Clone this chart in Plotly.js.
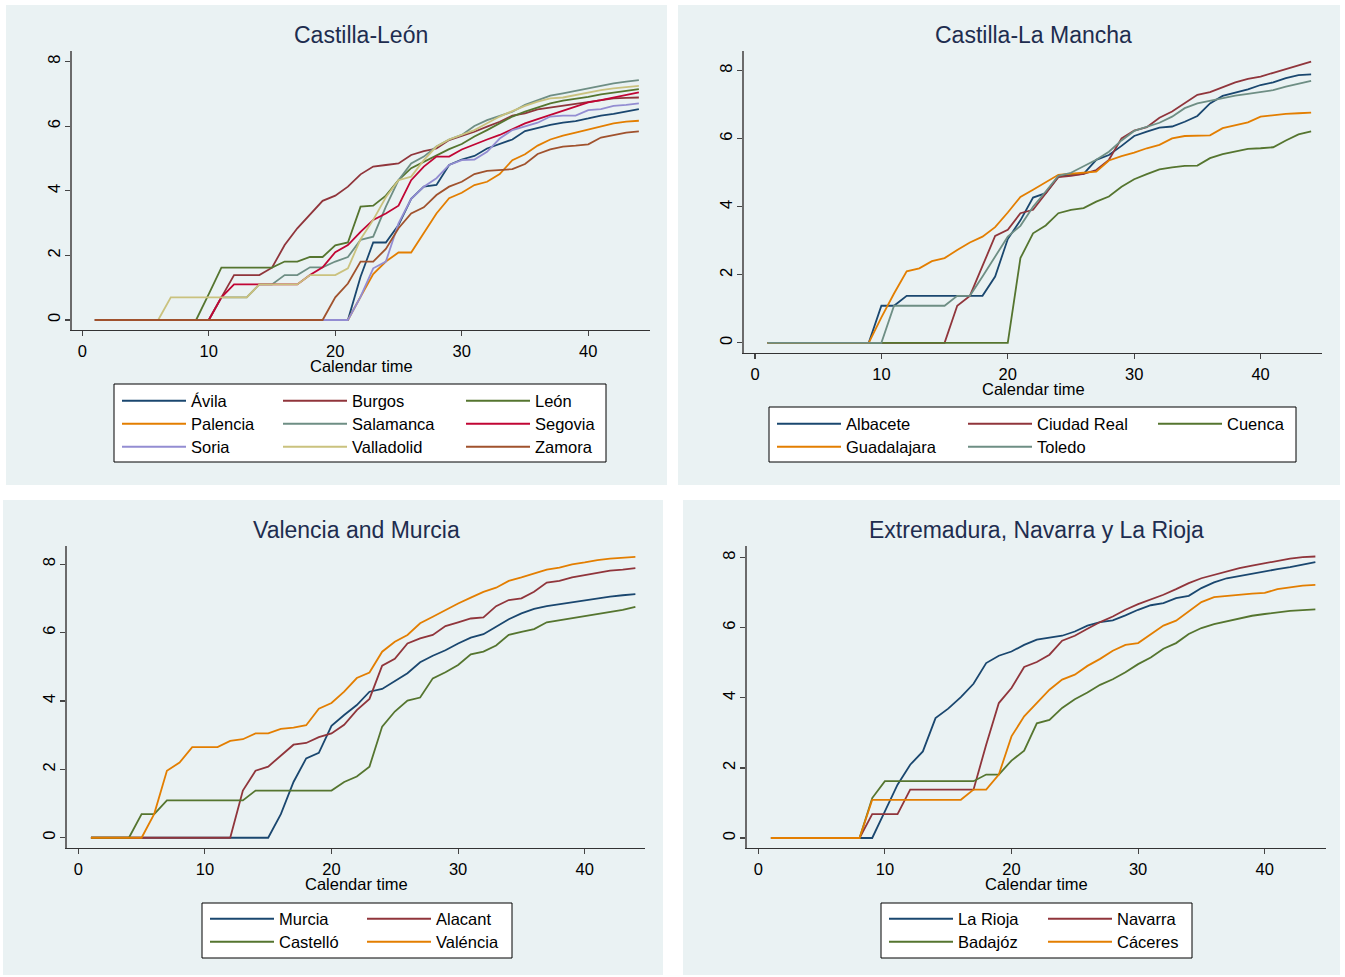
<!DOCTYPE html>
<html><head><meta charset="utf-8">
<script src="https://cdn.plot.ly/plotly-3.0.1.min.js"></script>
<style>html,body{margin:0;padding:0;background:#fff}#chart{width:1345px;height:977px}</style>
</head><body><div id="chart"></div>
<script>
const days = [1,2,3,4,5,6,7,8,9,10,11,12,13,14,15,16,17,18,19,20,21,22,23,24,25,26,27,28,29,30,31,32,33,34,35,36,37,38,39,40,41,42,43,44];
const xTicks = [0,10,20,30,40];
const yTicks = [0,2,4,6,8];

// Castilla-León
const avila      = [0,0,0,0,0,0,0,0,0,0,0,0,0,0,0,0,0,0,0,0,0,1.34,2.40,2.40,2.94,3.75,4.13,4.18,4.80,4.97,5.08,5.31,5.45,5.59,5.85,5.95,6.04,6.11,6.16,6.24,6.33,6.38,6.45,6.53];
const burgos     = [0,0,0,0,0,0,0,0,0,0,0.70,1.39,1.39,1.39,1.62,2.32,2.84,3.25,3.69,3.85,4.13,4.51,4.75,4.80,4.85,5.11,5.23,5.31,5.57,5.70,5.83,5.99,6.14,6.33,6.40,6.52,6.58,6.63,6.68,6.76,6.81,6.86,6.88,6.89];
const leon       = [0,0,0,0,0,0,0,0,0,0.80,1.62,1.62,1.62,1.62,1.62,1.81,1.81,1.95,1.95,2.31,2.40,3.51,3.54,3.85,4.33,4.70,4.90,5.11,5.29,5.45,5.68,5.88,6.09,6.30,6.45,6.58,6.71,6.79,6.84,6.91,6.99,7.05,7.10,7.15];
const palencia   = [0,0,0,0,0,0,0,0,0,0,0,0,0,0,0,0,0,0,0,0,0,0.72,1.42,1.81,2.09,2.09,2.68,3.30,3.77,3.94,4.18,4.28,4.52,4.95,5.13,5.40,5.59,5.71,5.80,5.90,5.99,6.09,6.14,6.17];
const salamanca  = [0,0,0,0,0,0,0,0,0,0,0.70,0.70,0.70,1.10,1.10,1.39,1.39,1.63,1.63,1.81,1.95,2.48,2.58,3.51,4.33,4.85,5.06,5.37,5.59,5.73,6.01,6.19,6.32,6.45,6.66,6.81,6.95,7.02,7.10,7.19,7.27,7.33,7.38,7.43];
const segovia    = [0,0,0,0,0,0,0,0,0,0,0.70,1.10,1.10,1.10,1.10,1.10,1.10,1.39,1.63,2.10,2.32,2.73,3.10,3.30,3.54,4.33,4.75,5.06,5.06,5.28,5.44,5.59,5.73,5.91,6.09,6.22,6.35,6.47,6.60,6.74,6.81,6.89,6.97,7.05];
const soria      = [0,0,0,0,0,0,0,0,0,0,0,0,0,0,0,0,0,0,0,0,0,0.72,1.60,1.81,2.99,3.75,4.13,4.39,4.80,4.95,4.97,5.21,5.62,5.88,5.99,6.11,6.30,6.33,6.33,6.50,6.53,6.63,6.66,6.71];
const valladolid = [0,0,0,0,0,0,0.70,0.70,0.70,0.70,0.70,0.70,0.70,1.10,1.10,1.10,1.10,1.39,1.39,1.39,1.60,2.50,3.10,3.80,4.33,4.44,4.95,5.37,5.59,5.73,5.88,6.09,6.30,6.47,6.63,6.76,6.86,6.89,6.97,7.04,7.12,7.17,7.22,7.25];
const zamora     = [0,0,0,0,0,0,0,0,0,0,0,0,0,0,0,0,0,0,0,0.70,1.13,1.81,1.81,2.20,2.84,3.30,3.49,3.87,4.13,4.28,4.52,4.62,4.64,4.67,4.83,5.14,5.28,5.37,5.40,5.44,5.65,5.73,5.80,5.84];

// Castilla-La Mancha
const albacete    = [0,0,0,0,0,0,0,0,0,1.09,1.09,1.38,1.38,1.38,1.38,1.38,1.38,1.38,1.95,3.05,3.60,4.27,4.40,4.89,4.94,4.97,5.38,5.52,5.79,6.08,6.21,6.33,6.36,6.50,6.67,7.04,7.26,7.36,7.45,7.58,7.66,7.78,7.87,7.89];
const ciudadReal  = [0,0,0,0,0,0,0,0,0,0,0,0,0,0,0,1.09,1.38,2.26,3.14,3.32,3.81,3.91,4.40,4.87,4.91,4.97,5.08,5.38,6.01,6.24,6.34,6.62,6.80,7.04,7.29,7.37,7.51,7.66,7.76,7.83,7.94,8.05,8.17,8.27];
const cuenca      = [0,0,0,0,0,0,0,0,0,0,0,0,0,0,0,0,0,0,0,0,2.49,3.22,3.45,3.81,3.91,3.96,4.15,4.30,4.59,4.81,4.96,5.10,5.16,5.20,5.21,5.43,5.55,5.62,5.70,5.72,5.75,5.95,6.13,6.22];
const guadalajara = [0,0,0,0,0,0,0,0,0,0.75,1.45,2.10,2.19,2.40,2.49,2.73,2.95,3.12,3.40,3.83,4.29,4.50,4.71,4.94,4.97,4.99,5.03,5.36,5.49,5.59,5.72,5.82,6.01,6.08,6.09,6.10,6.31,6.39,6.48,6.65,6.70,6.73,6.75,6.77];
const toledo      = [0,0,0,0,0,0,0,0,0,0,1.09,1.09,1.09,1.09,1.09,1.38,1.38,1.95,2.55,3.12,3.44,4.00,4.45,4.91,5.00,5.18,5.38,5.62,5.95,6.23,6.34,6.47,6.65,6.90,7.04,7.12,7.19,7.27,7.32,7.38,7.43,7.53,7.61,7.70];

// Valencia and Murcia
const murcia   = [0,0,0,0,0,0,0,0,0,0,0,0,0,0,0,0.69,1.63,2.32,2.48,3.27,3.59,3.88,4.27,4.35,4.58,4.81,5.13,5.32,5.48,5.68,5.85,5.95,6.17,6.39,6.56,6.69,6.77,6.83,6.88,6.95,7.00,7.05,7.09,7.12];
const alacant  = [0,0,0,0,0,0,0,0,0,0,0,0,1.38,1.96,2.08,2.40,2.72,2.77,2.94,3.05,3.30,3.73,4.06,5.03,5.23,5.68,5.83,5.93,6.19,6.30,6.41,6.44,6.77,6.95,7.00,7.19,7.46,7.51,7.61,7.68,7.75,7.81,7.84,7.88];
const castello = [0,0,0,0,0.69,0.69,1.09,1.09,1.09,1.09,1.09,1.09,1.09,1.38,1.38,1.38,1.38,1.38,1.38,1.38,1.63,1.79,2.08,3.25,3.69,4.01,4.10,4.66,4.84,5.05,5.36,5.44,5.62,5.93,6.02,6.10,6.30,6.36,6.41,6.48,6.55,6.61,6.66,6.75];
const valencia = [0,0,0,0,0,0.70,1.96,2.20,2.65,2.65,2.65,2.83,2.88,3.05,3.05,3.18,3.22,3.29,3.77,3.94,4.27,4.67,4.83,5.44,5.73,5.93,6.27,6.46,6.66,6.85,7.02,7.19,7.31,7.51,7.61,7.73,7.84,7.90,7.99,8.05,8.12,8.16,8.19,8.21];

// Extremadura, Navarra y La Rioja
const laRioja  = [0,0,0,0,0,0,0,0,0,0.76,1.52,2.09,2.47,3.42,3.69,4.02,4.40,4.99,5.20,5.32,5.51,5.66,5.72,5.77,5.89,6.06,6.16,6.21,6.35,6.51,6.64,6.70,6.84,6.91,7.13,7.29,7.41,7.48,7.53,7.60,7.67,7.73,7.79,7.87];
const navarra  = [0,0,0,0,0,0,0,0,0.68,0.68,0.68,1.38,1.38,1.38,1.38,1.38,1.38,2.66,3.85,4.28,4.88,5.02,5.23,5.63,5.77,5.97,6.16,6.32,6.51,6.67,6.80,6.94,7.10,7.27,7.41,7.51,7.62,7.70,7.77,7.84,7.92,7.97,8.01,8.03];
const badajoz  = [0,0,0,0,0,0,0,0,1.14,1.62,1.62,1.62,1.62,1.62,1.62,1.62,1.62,1.81,1.81,2.21,2.49,3.27,3.37,3.71,3.96,4.15,4.37,4.53,4.73,4.96,5.15,5.40,5.56,5.82,5.99,6.10,6.18,6.25,6.34,6.39,6.44,6.48,6.50,6.52];
const caceres  = [0,0,0,0,0,0,0,0,1.09,1.09,1.09,1.09,1.09,1.09,1.09,1.09,1.38,1.38,1.81,2.90,3.47,3.85,4.23,4.52,4.66,4.91,5.11,5.34,5.51,5.56,5.80,6.06,6.20,6.46,6.73,6.87,6.91,6.94,6.97,6.99,7.10,7.15,7.20,7.22];

const C = {navy:'#1a476f', maroon:'#90353b', green:'#55752f', orange:'#e37e00', teal:'#6e8e84',
           cranberry:'#c10534', lavender:'#938dd2', khaki:'#cac27e', sienna:'#a0522d'};

const W = 1345, H = 977;
const PX = v => v / W, PY = v => 1 - v / H;
const FONT = 'Arial, "Liberation Sans", Helvetica, sans-serif';
const BG = '#eaf2f3';

// series: [name, values, colour, legend column, legend row]
const panels = [
  {title:'Castilla-León', box:[6,5,667,485], plot:[72,51,650,330], xr:[-0.81,44.88], yr:[-0.31,8.33], titleY:35, xtitleY:366,
   legBox:[114,384,606,462], cols:[122,283,466], rows:[401,424,447],
   series:[['Ávila',avila,C.navy,0,0],['Burgos',burgos,C.maroon,1,0],['León',leon,C.green,2,0],
           ['Palencia',palencia,C.orange,0,1],['Salamanca',salamanca,C.teal,1,1],['Segovia',segovia,C.cranberry,2,1],
           ['Soria',soria,C.lavender,0,2],['Valladolid',valladolid,C.khaki,1,2],['Zamora',zamora,C.sienna,2,2]]},
  {title:'Castilla-La Mancha', box:[678,5,1340,485], plot:[744,51,1322,353], xr:[-0.87,44.86], yr:[-0.30,8.58], titleY:35, xtitleY:389,
   legBox:[769,407,1296,462], cols:[777,968,1158], rows:[424,447],
   series:[['Albacete',albacete,C.navy,0,0],['Ciudad Real',ciudadReal,C.maroon,1,0],['Cuenca',cuenca,C.green,2,0],
           ['Guadalajara',guadalajara,C.orange,0,1],['Toledo',toledo,C.teal,1,1]]},
  {title:'Valencia and Murcia', box:[3,500,663,975], plot:[67,546,645,848], xr:[-0.89,44.76], yr:[-0.30,8.53], titleY:530, xtitleY:884,
   legBox:[202,903,512,958], cols:[210,367], rows:[919,942],
   series:[['Murcia',murcia,C.navy,0,0],['Alacant',alacant,C.maroon,1,0],['Castelló',castello,C.green,0,1],['Valéncia',valencia,C.orange,1,1]]},
  {title:'Extremadura, Navarra y La Rioja', box:[683,500,1340,975], plot:[747,546,1326,848], xr:[-0.89,44.84], yr:[-0.285,8.33], titleY:530, xtitleY:884,
   legBox:[881,903,1192,958], cols:[889,1048], rows:[919,942],
   series:[['La Rioja',laRioja,C.navy,0,0],['Navarra',navarra,C.maroon,1,0],['Badajóz',badajoz,C.green,0,1],['Cáceres',caceres,C.orange,1,1]]}
];

const traces = [];
const layout = {
  width: W, height: H, margin:{l:0,r:0,t:0,b:0},
  paper_bgcolor:'#ffffff', plot_bgcolor:'#ffffff',
  font:{family:FONT, color:'#000', size:16.5},
  showlegend:true, shapes:[], annotations:[]
};

let legendCount = 0;
panels.forEach((p, i) => {
  const n = i + 1;
  const xa = 'xaxis' + (n === 1 ? '' : n), ya = 'yaxis' + (n === 1 ? '' : n);
  const xid = 'x' + (n === 1 ? '' : n), yid = 'y' + (n === 1 ? '' : n);
  layout[xa] = {
    domain:[PX(p.plot[0]), PX(p.plot[2])], range:p.xr, anchor:yid,
    tickvals:xTicks, ticktext:xTicks.map(String), ticks:'outside', ticklen:5, tickwidth:1.2, tickcolor:'#444',
    showline:true, linecolor:'#333', linewidth:1.3, showgrid:false, zeroline:false,
    tickfont:{size:16.5, family:FONT, color:'#000'}, ticklabelstandoff:1, fixedrange:true
  };
  layout[ya] = {
    domain:[PY(p.plot[3]), PY(p.plot[1])], range:p.yr, anchor:xid,
    tickvals:yTicks, ticktext:yTicks.map(String), ticks:'outside', ticklen:5, tickwidth:1.2, tickcolor:'#444',
    showline:true, linecolor:'#6b6b6b', linewidth:2, showgrid:true, gridcolor:BG, gridwidth:1.5, zeroline:false,
    tickangle:-90, tickfont:{size:16.5, family:FONT, color:'#000'}, ticklabelstandoff:-2, fixedrange:true
  };
  // panel background
  layout.shapes.push({type:'rect', xref:'paper', yref:'paper', layer:'below',
    x0:PX(p.box[0]), x1:PX(p.box[2]), y0:PY(p.box[3]), y1:PY(p.box[1]), fillcolor:BG, line:{width:0}});
  // legend frame
  layout.shapes.push({type:'rect', xref:'paper', yref:'paper', layer:'below',
    x0:PX(p.legBox[0]), x1:PX(p.legBox[2]), y0:PY(p.legBox[3]), y1:PY(p.legBox[1]), fillcolor:'#ffffff', line:{width:1, color:'#000'}});
  const cx = (p.plot[0] + p.plot[2]) / 2;
  layout.annotations.push({text:p.title, xref:'paper', yref:'paper', x:PX(cx), y:PY(p.titleY),
    xanchor:'center', yanchor:'middle', showarrow:false, font:{size:23, color:'#1e2d4f', family:FONT}});
  layout.annotations.push({text:'Calendar time', xref:'paper', yref:'paper', x:PX(cx), y:PY(p.xtitleY),
    xanchor:'center', yanchor:'middle', showarrow:false, font:{size:16.5, color:'#000', family:FONT}});
  p.series.forEach(s => {
    legendCount++;
    const key = 'legend' + (legendCount === 1 ? '' : legendCount);
    layout[key] = {x:PX(p.cols[s[3]] - 5), y:PY(p.rows[s[4]] - 17.5), xanchor:'left', yanchor:'top', orientation:'v',
      bgcolor:'rgba(0,0,0,0)', borderwidth:0, itemwidth:64, tracegroupgap:0,
      font:{size:16.5, family:FONT, color:'#000'}, itemclick:false, itemdoubleclick:false};
    traces.push({type:'scatter', mode:'lines', name:s[0], x:days, y:s[1], xaxis:xid, yaxis:yid,
      line:{color:s[2], width:1.8}, legend:key, hoverinfo:'x+y+name'});
  });
});

Plotly.newPlot('chart', traces, layout, {staticPlot:true, displayModeBar:false});
</script>
</body></html>
